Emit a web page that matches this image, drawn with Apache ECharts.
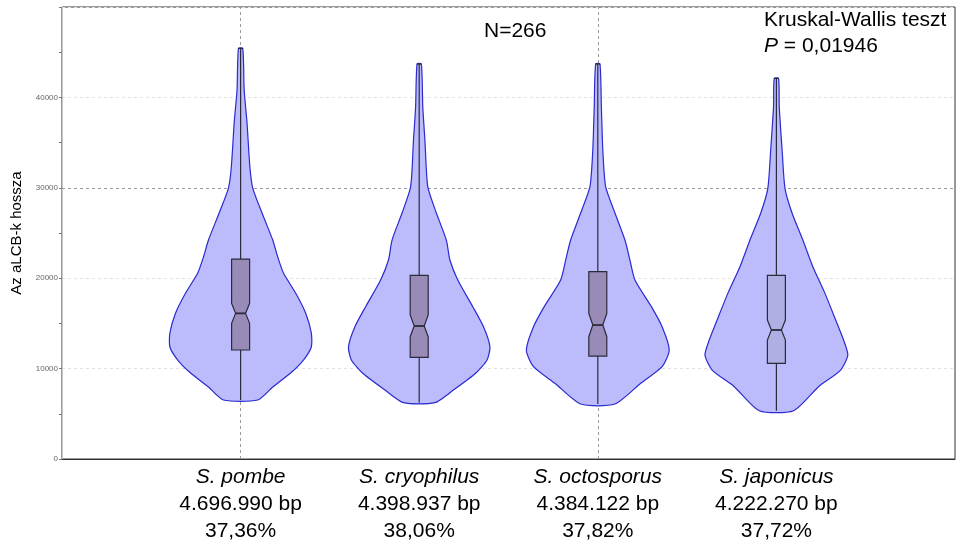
<!DOCTYPE html>
<html>
<head>
<meta charset="utf-8">
<script src="https://cdn.jsdelivr.net/npm/echarts@6/dist/echarts.min.js"></script>
<style>
  html, body { margin: 0; padding: 0; background: #fff; }
  #main { width: 967px; height: 545px; }
</style>
</head>
<body>
<div id="main"></div>
<script>
// fajok es genom adatok (x tengely feliratai)
var species = ['S. pombe', 'S. cryophilus', 'S. octosporus', 'S. japonicus'];
var genomeSizes = ['4.696.990 bp', '4.398.937 bp', '4.384.122 bp', '4.222.270 bp'];
var gcContent = ['37,36%', '38,06%', '37,82%', '37,72%'];

// violin kontur: hossz-szintek es relativ suruseg (1 = legszelesebb)
var pombeLevels = [6530, 7960, 9510, 10950, 12390, 13940, 16150, 18360, 20570, 22340, 24220, 27210, 29970, 32300, 37160, 40810, 45420];
var pombeDensity = [0.24, 0.45, 0.70, 0.88, 0.99, 0.99, 0.91, 0.77, 0.60, 0.52, 0.45, 0.30, 0.17, 0.13, 0.09, 0.05, 0.03];
var cryoLevels = [6230, 7630, 9480, 10950, 12420, 14630, 16850, 19800, 22010, 24220, 27210, 30120, 35280, 38960, 43690];
var cryoDensity = [0.22, 0.48, 0.79, 0.95, 0.99, 0.90, 0.75, 0.54, 0.43, 0.38, 0.24, 0.12, 0.08, 0.05, 0.03];
var octoLevels = [6080, 8370, 10210, 12060, 14630, 16850, 19800, 22010, 24220, 27210, 30120, 34180, 38960, 43690];
var octoDensity = [0.24, 0.60, 0.90, 1.00, 0.90, 0.75, 0.52, 0.45, 0.38, 0.24, 0.11, 0.07, 0.05, 0.03];
var japoLevels = [5340, 8000, 9840, 11500, 13160, 15370, 18320, 21270, 24220, 27180, 29940, 34180, 38960, 42100];
var japoDensity = [0.24, 0.59, 0.90, 1.00, 0.94, 0.83, 0.68, 0.51, 0.37, 0.22, 0.12, 0.08, 0.04, 0.03];

// boxplot: min, q1, notch also, median, notch felso, q3, max
var pombeBox = [6530, 12055, 15010, 16110, 17220, 22120, 45420];
var cryoBox = [6230, 11250, 13530, 14710, 15930, 20310, 43690];
var octoBox = [6080, 11390, 13530, 14820, 16110, 20720, 43690];
var japoBox = [5340, 10580, 13160, 14270, 15370, 20310, 42100];

var yTicks = [0, 10000, 20000, 30000, 40000];

var levels = [pombeLevels, cryoLevels, octoLevels, japoLevels];
var densities = [pombeDensity, cryoDensity, octoDensity, japoDensity];
var boxes = [pombeBox, cryoBox, octoBox, japoBox];
var boxFills = ['rgba(110,80,100,0.45)', 'rgba(110,80,100,0.45)', 'rgba(110,80,100,0.45)', 'rgba(160,160,200,0.45)'];

var MAX_HALF = 0.40; // legszelesebb violin fel-szelessege x egysegben

var chart = echarts.init(document.getElementById('main'));

function renderViolin(params, api) {
    var i = params.dataIndex;
    var cx = api.value(0);
    var ys = levels[i], ds = densities[i];
    var right = [], left = [];
    for (var k = 0; k < ys.length; k++) {
        right.push(api.coord([cx + ds[k] * MAX_HALF, ys[k]]));
        left.unshift(api.coord([cx - ds[k] * MAX_HALF, ys[k]]));
    }
    return {
        type: 'polygon',
        shape: { points: right.concat(left), smooth: 0.22 },
        style: { fill: '#bcbcfc', stroke: '#2a2ad0', lineWidth: 1.2 }
    };
}

function renderBox(params, api) {
    var i = params.dataIndex;
    var cx = api.value(0);
    var b = boxes[i];
    var p = function(v) { return api.coord([cx, v]); };
    var x = p(b[0])[0];
    var yMin = p(b[0])[1], yQ1 = p(b[1])[1], yNl = p(b[2])[1], yMed = p(b[3])[1],
        yNh = p(b[4])[1], yQ3 = p(b[5])[1], yMax = p(b[6])[1];
    var bw = 9, nw = 5;
    var lineStyle = { stroke: '#2b2b3a', lineWidth: 1.2 };
    return {
        type: 'group',
        children: [
            { type: 'line', shape: { x1: x, y1: yMin, x2: x, y2: yQ1 }, style: lineStyle },
            { type: 'line', shape: { x1: x, y1: yQ3, x2: x, y2: yMax }, style: lineStyle },
            { type: 'line', shape: { x1: x - 2.5, y1: yMax, x2: x + 2.5, y2: yMax }, style: lineStyle },
            {
                type: 'polygon',
                shape: { points: [
                    [x - bw, yQ1], [x + bw, yQ1], [x + bw, yNl], [x + nw, yMed], [x + bw, yNh],
                    [x + bw, yQ3], [x - bw, yQ3], [x - bw, yNh], [x - nw, yMed], [x - bw, yNl]
                ] },
                style: { fill: boxFills[i], stroke: '#2b2b3a', lineWidth: 1.2 }
            },
            { type: 'line', shape: { x1: x - nw, y1: yMed, x2: x + nw, y2: yMed }, style: { stroke: '#2b2b3a', lineWidth: 1.8 } }
        ]
    };
}

var seriesData = species.map(function(s, i) {
    return [i + 1, boxes[i][0], boxes[i][6]];
});

var option = {
    animation: false,
    grid: {
        left: 62, right: 12, top: 7, bottom: 86,
        show: true, borderColor: '#333', borderWidth: 1
    },
    xAxis: {
        type: 'value', min: 0, max: 5, interval: 1,
        axisLine: { lineStyle: { color: '#333', width: 1.2 } },
        axisTick: { show: false },
        splitLine: { show: false },
        axisLabel: {
            margin: 5,
            formatter: function(v) {
                if (v < 1 || v > 4) return '';
                var i = v - 1;
                return '{s|' + species[i] + '}\n{g|' + genomeSizes[i] + '}\n{g|' + gcContent[i] + '}';
            },
            rich: {
                s: { fontFamily: 'Liberation Sans', fontStyle: 'italic', fontSize: 21, lineHeight: 27, color: '#000' },
                g: { fontFamily: 'Liberation Sans', fontSize: 21, lineHeight: 27, color: '#000' }
            }
        }
    },
    yAxis: {
        type: 'value', min: 0, max: 50000, interval: 10000,
        name: 'Az aLCB-k hossza',
        nameLocation: 'middle',
        nameGap: 37,
        nameTextStyle: { fontFamily: 'Liberation Sans', fontSize: 15, color: '#000' },
        axisLine: { show: true, lineStyle: { color: '#c8c8c8' } },
        axisTick: { show: true, length: 3, lineStyle: { color: '#777' } },
        minorTick: { show: true, splitNumber: 2, length: 3, lineStyle: { color: '#777' } },
        axisLabel: {
            showMaxLabel: false,
            fontFamily: 'Liberation Sans', fontSize: 8, color: '#666', margin: 4,
            formatter: function(v) { return yTicks.indexOf(v) >= 0 ? String(v) : ''; }
        },
        splitLine: { show: true, lineStyle: { color: '#e2e2e2', type: [3, 3] } }
    },
    graphic: [
        { type: 'text', left: 484, top: 21, style: { text: 'N=266', font: '21px "Liberation Sans"', fill: '#000' } },
        { type: 'text', left: 764, top: 10, style: { text: 'Kruskal-Wallis teszt', font: '21px "Liberation Sans"', fill: '#000' } },
        { type: 'text', left: 764, top: 36, style: {
            text: '{i|P} = 0,01946', fill: '#000',
            rich: {
                i: { fontFamily: 'Liberation Sans', fontStyle: 'italic', fontSize: 21 }
            },
            font: '21px "Liberation Sans"'
        } }
    ],
    series: [
        {
            type: 'line', data: [], z: 1, silent: true,
            markLine: {
                z: 1,
                silent: true, symbol: 'none', label: { show: false },
                lineStyle: { color: '#9a9a9a', type: [3, 3], width: 1 },
                data: [{ xAxis: 1 }, { xAxis: 3 }, { yAxis: 30000 }]
            }
        },
        {
            type: 'custom', z: 2, renderItem: renderViolin,
            encode: { x: 0, y: [1, 2] }, data: seriesData
        },
        {
            type: 'custom', z: 3, renderItem: renderBox,
            encode: { x: 0, y: [1, 2] }, data: seriesData
        }
    ]
};

chart.setOption(option);
</script>
</body>
</html>
